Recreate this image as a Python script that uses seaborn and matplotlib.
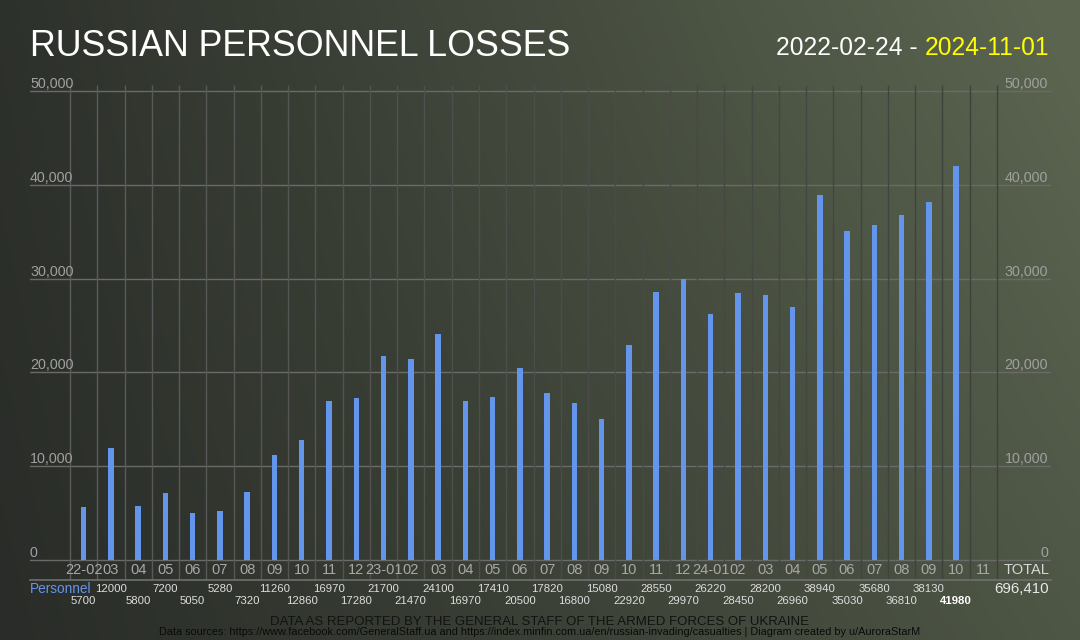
import numpy as np
import pandas as pd
import matplotlib
matplotlib.use("Agg")
import matplotlib.pyplot as plt
import matplotlib.transforms as mtransforms
import seaborn as sns

# ---------------- data ----------------
months = ["2022-02", "2022-03", "2022-04", "2022-05", "2022-06", "2022-07", "2022-08",
          "2022-09", "2022-10", "2022-11", "2022-12", "2023-01", "2023-02", "2023-03",
          "2023-04", "2023-05", "2023-06", "2023-07", "2023-08", "2023-09", "2023-10",
          "2023-11", "2023-12", "2024-01", "2024-02", "2024-03", "2024-04", "2024-05",
          "2024-06", "2024-07", "2024-08", "2024-09", "2024-10", "2024-11"]
tick_labels = ["22-02", "03", "04", "05", "06", "07", "08", "09", "10", "11", "12",
               "23-01", "02", "03", "04", "05", "06", "07", "08", "09", "10", "11", "12",
               "24-01", "02", "03", "04", "05", "06", "07", "08", "09", "10", "11"]
personnel = [5700, 12000, 5800, 7200, 5050, 5280, 7320, 11260, 12860, 16970, 17280,
             21700, 21470, 24100, 16970, 17410, 20500, 17820, 16800, 15080, 22920,
             28550, 29970, 26220, 28450, 28200, 26960, 38940, 35030, 35680, 36810,
             38130, 41980, np.nan]
y_ticks = [0, 10000, 20000, 30000, 40000, 50000]
title = "RUSSIAN PERSONNEL LOSSES"
date_start = "2022-02-24 - "
date_end = "2024-11-01"
series_name = "Personnel"
footer1 = "DATA AS REPORTED BY THE GENERAL STAFF OF THE ARMED FORCES OF UKRAINE"
footer2 = ("Data sources: https://www.facebook.com/GeneralStaff.ua and "
           "https://index.minfin.com.ua/en/russian-invading/casualties | "
           "Diagram created by u/AuroraStarM")

# ---------------- style ----------------
sns.set_theme(style="white")
plt.rcParams['font.family'] = ['Liberation Sans', 'DejaVu Sans']

W, H = 1080, 640
fig = plt.figure(figsize=(W / 100, H / 100), dpi=100)

# gradient background
bg = fig.add_axes([0, 0, 1, 1])
bg.axis('off')
xx, yy = np.meshgrid(np.linspace(0, 1, W), np.linspace(0, 1, H))  # yy: 0 = top
t = np.clip(0.75 * xx ** 1.05 + 0.30 * (1 - yy) * (0.3 + 0.7 * xx), 0, 1)
c0 = np.array([41, 44, 40]) / 255
c1 = np.array([90, 100, 79]) / 255
img = c0 + (c1 - c0) * t[..., None]
bg.imshow(img, aspect='auto', extent=[0, 1, 0, 1], origin='upper', zorder=0)
bg.set_xlim(0, 1)
bg.set_ylim(0, 1)


def px_box(l, tp, r, b):
    return [l / W, 1 - b / H, (r - l) / W, (b - tp) / H]


ax_l, ax_t, ax_r, ax_b = 30, 85, 1051, 580
ax = fig.add_axes(px_box(ax_l, ax_t, ax_r, ax_b))
ax.patch.set_alpha(0)

df = pd.DataFrame({"month": months, "personnel": personnel})
sns.barplot(data=df, x="month", y="personnel", order=months, color="#6495ed",
            saturation=1, width=0.2, errorbar=None, ax=ax, zorder=3,
            edgecolor="none", linewidth=0)

n = len(months)
first_sep, last_sep = 70, 997
step = (last_sep - first_sep) / n
x0 = -0.5 - (first_sep - ax_l) / step
x1 = n - 0.5 + (ax_r - last_sep) / step
zero_px, top_px = 560.3, 90.7
per = (zero_px - top_px) / 50000
y0 = -(ax_b - zero_px) / per
y1 = 50000 + (top_px - ax_t) / per
ax.set_xlim(x0, x1)
ax.set_ylim(y0, y1)
ax.set_xticks([])
ax.set_yticks([])
ax.set_xlabel("")
ax.set_ylabel("")
for s in ["top", "left", "right"]:
    ax.spines[s].set_visible(False)
ax.spines["bottom"].set_color("#707070")
ax.spines["bottom"].set_linewidth(1.2)

for v in y_ticks:
    ax.axhline(v, color="#6a6a6a", lw=1, zorder=1)

sep_cols = [tuple(np.array([0.36, 0.36, 0.36]) * (1 - k / n) + np.array([0.24, 0.25, 0.23]) * (k / n))
            for k in range(n + 1)]
ax.vlines(np.arange(n + 1) - 0.5, y0, y1, colors=sep_cols, lw=1, zorder=1)

# y labels both sides
tr_l = mtransforms.offset_copy(mtransforms.blended_transform_factory(ax.transAxes, ax.transData),
                               fig=fig, x=0, y=3, units='dots')
tr_r = mtransforms.offset_copy(mtransforms.blended_transform_factory(ax.transAxes, ax.transData),
                               fig=fig, x=-3, y=3, units='dots')
for v in y_ticks:
    ax.text(0, v, f"{v:,}", transform=tr_l, ha='left', va='baseline',
            fontsize=10.3, color="#a0a0a0")
    ax.text(1, v, f"{v:,}", transform=tr_r, ha='right', va='baseline',
            fontsize=10.3, color="#a0a0a0")

# x tick labels & value rows
trx = mtransforms.blended_transform_factory(ax.transData, fig.transFigure)
for i, lab in enumerate(tick_labels):
    ax.text(i, 1 - 569.5 / H, lab, transform=trx, ha='center', va='center',
            fontsize=10.5, color="#a8a8a8", clip_on=False)

valid = [i for i, v in enumerate(personnel) if not np.isnan(v)]
last_i = valid[-1]
for i in valid:
    v = personnel[i]
    ypx = 589 if i % 2 == 1 else 601
    bold = i == last_i
    ax.text(i, 1 - ypx / H, f"{int(v)}", transform=trx, ha='center', va='center',
            fontsize=8.2, color="white" if bold else "#dedede",
            fontweight='bold' if bold else 'normal', clip_on=False)

total = int(np.nansum(personnel))
fig.text(30 / W, 1 - 589 / H, series_name, ha='left', va='center', fontsize=9.8, color="#6495ed")
fig.text(1049 / W, 1 - 570 / H, "TOTAL", ha='right', va='center', fontsize=10.5, color="#d8d8d8")
fig.text(1049 / W, 1 - 589 / H, f"{total:,}", ha='right', va='center', fontsize=10.8, color="#e8e8e8")

# titles & footers, fitted to measured widths
renderer = fig.canvas.get_renderer()


def fit(txt, target):
    w = txt.get_window_extent(renderer).width
    txt.set_fontsize(txt.get_fontsize() * target / w)


t_title = fig.text(30 / W, 1 - 56 / H, title, ha='left', va='baseline', fontsize=26, color='white')
fit(t_title, 542)

t_end = fig.text(1049 / W, 1 - 55 / H, date_end, ha='right', va='baseline', fontsize=18, color='#ffff00')
t_start = fig.text(0, 1 - 55 / H, date_start, ha='right', va='baseline', fontsize=18, color='white')
w_total = t_end.get_window_extent(renderer).width + t_start.get_window_extent(renderer).width
scale = 272 / w_total
t_end.set_fontsize(18 * scale)
t_start.set_fontsize(18 * scale)
we = t_end.get_window_extent(renderer).width
t_start.set_x((1049 - we) / W)

t_f1 = fig.text(540 / W, 1 - 625 / H, footer1, ha='center', va='baseline', fontsize=10, color='#121212')
fit(t_f1, 538)
t_f2 = fig.text(540 / W, 1 - 635 / H, footer2, ha='center', va='baseline', fontsize=8, color='#0a0a0a')
fit(t_f2, 761)

fig.savefig("out.png", dpi=100)
